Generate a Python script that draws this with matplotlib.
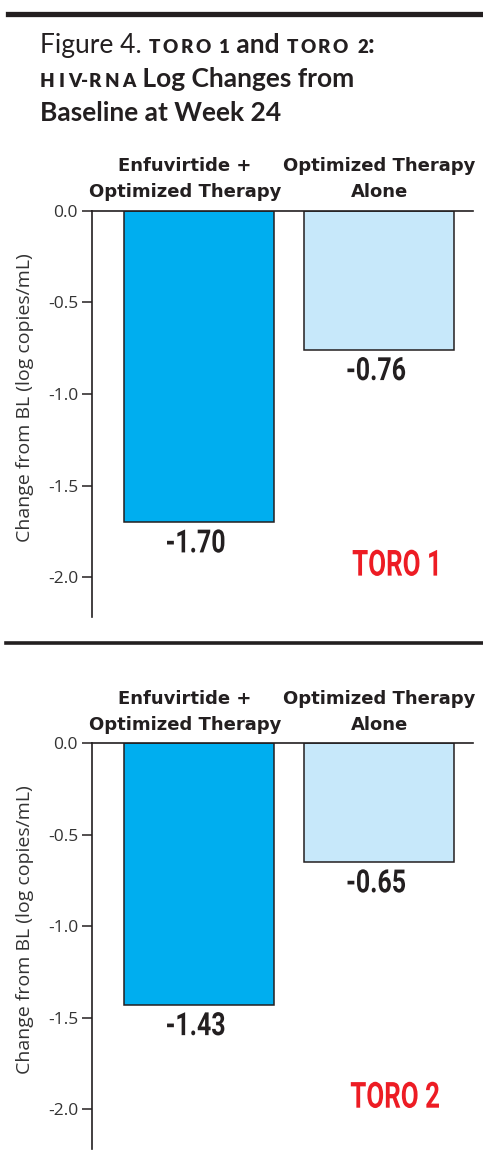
import matplotlib
matplotlib.use("Agg")
import matplotlib.pyplot as plt
from matplotlib.lines import Line2D
from matplotlib.patches import PathPatch
from matplotlib.textpath import TextPath
from matplotlib.font_manager import FontProperties
from matplotlib.transforms import Affine2D, ScaledTranslation

# ------------------------------------------------------------------ #
#  Dados                                                               #
# ------------------------------------------------------------------ #
grupos = ["Enfuvirtide +\nOptimized Therapy", "Optimized Therapy\nAlone"]
estudos = ["TORO 1", "TORO 2"]
toro1 = [-1.70, -0.76]
toro2 = [-1.43, -0.65]
valores = [toro1, toro2]
yticks = [0.0, -0.5, -1.0, -1.5, -2.0]
ytick_labels = ["0.0", "-0.5", "-1.0", "-1.5", "-2.0"]

W, H = 483, 1163
INK = "#231F20"
CORES = ["#00AEEF", "#C7E8FA"]
VERMELHO = "#ED1C24"
FONTE_TIT = "Lato"
FONTE_CAT = "DejaVu Sans"
FONTE_EIXO = "Open Sans"
PROP_NUM = FontProperties(family="Roboto", weight="bold")


def fx(px):
    return px / W


def fy(py):
    return 1 - py / H


fig = plt.figure(figsize=(W / 100, H / 100), dpi=100)
renderer = fig.canvas.get_renderer()


def linha_texto(x, y, partes):
    """Escreve pedaços de texto lado a lado; versalete com espaçamento extra."""
    for txt, size, weight, track in partes:
        pedacos = list(txt) if track else [txt]
        for i, p in enumerate(pedacos):
            t = fig.text(fx(x), fy(y), p, fontsize=size, fontweight=weight,
                         family=FONTE_TIT, color=INK, va="baseline", ha="left")
            if p == " ":
                x += size * 0.3
            else:
                x += t.get_window_extent(renderer=renderer).width
            if i < len(pedacos) - 1 and p != "-" and pedacos[i + 1] != "-":
                x += track


def texto_condensado(s, size_px, sx, base, color, dx=0, dy=0, va="top"):
    """Texto desenhado como path, comprimido na horizontal (fonte condensada)."""
    path = TextPath((0, 0), s, size=size_px, prop=PROP_NUM)
    bb = path.get_extents()
    cx = (bb.x0 + bb.x1) / 2
    ref_y = bb.y1 if va == "top" else (bb.y0 + bb.y1) / 2
    tr = (Affine2D().translate(-cx, -ref_y).scale(sx, 1).translate(dx, dy) + base)
    fig.add_artist(PathPatch(path, transform=tr, facecolor=color, edgecolor="none"))


# regras horizontais
fig.add_artist(Line2D([fx(8), 1], [fy(13.5), fy(13.5)], color=INK, lw=3.8))
fig.add_artist(Line2D([fx(6), 1], [fy(643), fy(643)], color=INK, lw=2.6))

# título
linha_texto(40, 53, [("Figure 4. ", 19, "normal", 0), ("TORO 1", 13.5, "heavy", 2.5),
                     (" and ", 19, "bold", 0), ("TORO 2", 13.5, "heavy", 2.5),
                     (":", 19, "bold", 0)])
linha_texto(40, 87, [("HIV-RNA", 13.5, "heavy", 3.5), (" Log Changes from", 19, "bold", 0)])
linha_texto(40, 121, [("Baseline at Week 24", 19, "bold", 0)])

# ------------------------------------------------------------------ #
#  Painéis                                                             #
# ------------------------------------------------------------------ #
paineis = [(210.7, 617.3), (743.3, 1149.3)]
x_pos = [0, 1]

for (topo, base), vals, nome in zip(paineis, valores, estudos):
    ax = fig.add_axes([fx(92), fy(base), fx(473 - 92), (base - topo) / H])
    ax.bar(x_pos, vals, width=0.83, color=CORES, edgecolor=INK, linewidth=1.1, zorder=2)
    ax.set_xlim(-0.591, 1.519)
    ax.set_ylim(-2.218, 0)

    for s in ["right", "bottom"]:
        ax.spines[s].set_visible(False)
    for s in ["left", "top"]:
        ax.spines[s].set_color(INK)
        ax.spines[s].set_linewidth(1.2)
        ax.spines[s].set_zorder(3)

    ax.set_xticks([])
    ax.set_yticks(yticks)
    ax.set_yticklabels(ytick_labels, family=FONTE_EIXO, fontsize=12.5, color="#333333")
    ax.tick_params(axis="y", direction="out", length=7, width=1.1, color=INK, pad=3)

    ax.set_ylabel("Change from BL (log copies/mL)", family=FONTE_EIXO, fontsize=14,
                  color="#333333")
    ax.yaxis.set_label_coords(-0.152, 0.54)

    # rótulos das categorias
    offsets = [-10, 0]
    for x, g, dx in zip(x_pos, grupos, offsets):
        ax.annotate(g, xy=(x, 1), xycoords=("data", "axes fraction"),
                    xytext=(dx, 7), textcoords="offset points",
                    ha="center", va="bottom", family=FONTE_CAT, fontweight="bold",
                    fontsize=13, color=INK, linespacing=1.55)

    # valores abaixo das barras
    for x, v in zip(x_pos, vals):
        texto_condensado(f"{v:.2f}", 32, 0.78, ScaledTranslation(x, v, ax.transData),
                         INK, dx=-3, dy=-7)

    texto_condensado(nome, 36, 0.72, ScaledTranslation(0.795, 0.134, ax.transAxes),
                     VERMELHO, va="center")

fig.savefig("out.png", dpi=100)
